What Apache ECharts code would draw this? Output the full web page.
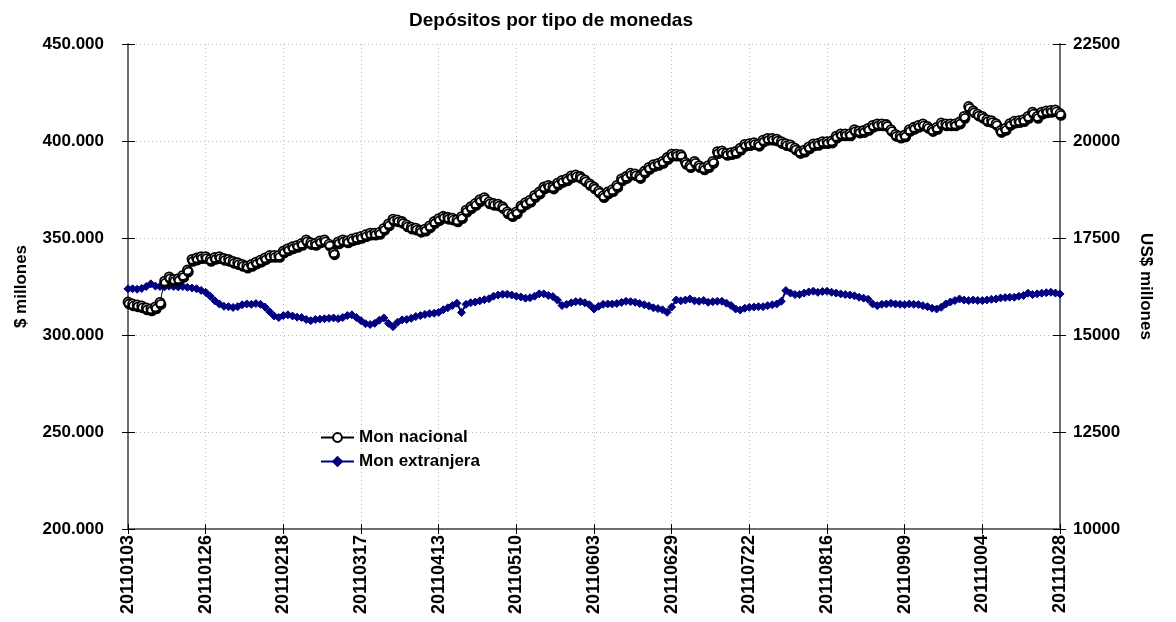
<!DOCTYPE html>
<html>
<head>
<meta charset="utf-8">
<script src="https://cdn.jsdelivr.net/npm/echarts@6/dist/echarts.min.js"></script>
<style>
html,body{margin:0;padding:0;background:#fff;}
#chart{width:1176px;height:622px;}
</style>
</head>
<body>
<div id="chart"></div>
<script>
var tickLabels = ['20110103','20110126','20110218','20110317','20110413','20110510','20110603','20110629','20110722','20110816','20110909','20111004','20111028'];
var step = 17;

var monNacional = [
317000,316000,315500,315000,314000,313500,314500,316800,327800,330000,
328700,329000,330700,333500,339000,339700,340400,340400,339000,340000,
340400,339500,339000,338000,337300,336400,335500,336400,337600,338600,
339800,341000,341000,341000,343300,344500,345500,346200,347200,349000,
347600,347200,348500,349000,346800,342400,348000,349000,348500,349500,
350200,350800,351700,352500,352500,352900,355000,357300,359700,359300,
358500,356800,355600,355100,354000,354600,356300,358500,360000,361200,
360700,360200,359300,361000,364400,366100,367800,369800,370800,368600,
367800,367500,366100,363500,362000,363500,366500,368200,369500,372000,
373700,376300,377100,376300,378300,379700,380500,382000,382500,381700,
380000,378000,376300,374200,371800,373700,374900,377100,380500,381700,
383400,383100,381700,384400,386400,387800,388500,389500,391500,393200,
393200,392900,389000,387300,389500,387300,386100,387300,389500,394500,
394900,393600,394000,394600,396300,398300,398600,399200,398300,400500,
401400,401400,401000,399700,398600,398000,396300,394600,395300,397000,
398500,398800,399700,399700,400000,402500,403700,403700,403700,405900,
405100,405400,406500,408100,408800,408800,408500,405900,403400,402500,
403100,405900,407100,408100,408800,407500,405900,407000,409300,408800,
408800,408800,409800,412700,417800,415600,413900,412700,411000,410500,
409000,405400,406500,409000,410200,410500,411000,412700,414900,412700,
414900,415500,415800,416000,414200
];

var monExtranjera = [
16190,16190,16180,16200,16250,16318,16260,16250,16240,16260,
16250,16240,16250,16230,16210,16190,16150,16100,16000,15880,
15800,15740,15730,15710,15730,15780,15800,15790,15810,15790,
15720,15600,15490,15450,15500,15520,15490,15460,15450,15400,
15370,15400,15410,15420,15430,15440,15420,15450,15500,15520,
15450,15370,15290,15270,15300,15380,15440,15300,15215,15330,
15390,15400,15430,15475,15500,15530,15550,15560,15585,15650,
15700,15760,15820,15580,15790,15830,15850,15880,15910,15935,
16000,16030,16050,16050,16030,16000,15980,15950,15960,16000,
16060,16060,16020,15990,15900,15760,15790,15830,15860,15860,
15830,15780,15670,15740,15790,15800,15800,15810,15840,15869,
15860,15843,15810,15780,15750,15700,15680,15650,15584,15720,
15903,15880,15900,15929,15880,15869,15890,15843,15860,15869,
15869,15820,15760,15670,15645,15690,15714,15720,15731,15731,
15757,15780,15800,15869,16145,16080,16042,16042,16080,16110,
16130,16100,16120,16128,16102,16080,16059,16042,16030,16010,
15973,15950,15920,15800,15757,15790,15800,15817,15800,15790,
15783,15800,15790,15783,15757,15730,15690,15670,15714,15800,
15850,15886,15929,15900,15886,15903,15890,15886,15903,15920,
15929,15955,15965,15973,15973,16000,16016,16078,16042,16060,
16078,16090,16102,16080,16059
];

var categories = monNacional.map(function (_, i) {
  return i % step === 0 ? tickLabels[i / step] : '';
});

var FONT = '"Liberation Sans", Arial, sans-serif';
var AXIS_COLOR = '#6e6e6e';
var GRID_COLOR = '#bdbdbd';

function fmtThousands(v) {
  return String(Math.round(v)).replace(/\B(?=(\d{3})+(?!\d))/g, '.');
}
function fmtPlain(v) {
  return String(Math.round(v));
}

var chart = echarts.init(document.getElementById('chart'), null, {renderer: 'canvas'});
chart.setOption({
  animation: false,
  backgroundColor: '#ffffff',
  textStyle: {fontFamily: FONT},
  title: {
    text: 'Depósitos por tipo de monedas',
    left: 546,
    top: 6,
    textAlign: 'center',
    textStyle: {fontFamily: FONT, fontSize: 19, fontWeight: 'bold', color: '#000'}
  },
  legend: {
    orient: 'vertical',
    left: 320,
    top: 429,
    padding: 0,
    itemWidth: 33,
    itemHeight: 11,
    itemGap: 7,
    data: ['Mon nacional', 'Mon extranjera'],
    textStyle: {fontFamily: FONT, fontSize: 17, fontWeight: 'bold', color: '#000'}
  },
  grid: {left: 128, right: 116, top: 44, bottom: 93, containLabel: false},
  xAxis: [{
    type: 'category',
    data: categories,
    boundaryGap: false,
    axisLine: {show: true, lineStyle: {color: AXIS_COLOR, width: 2}},
    axisTick: {show: true, interval: step - 1, length: 5, lineStyle: {color: '#000', width: 1}},
    axisLabel: {interval: step - 1, rotate: 90, margin: 6, fontFamily: FONT, fontSize: 18, fontWeight: 'bold', color: '#000'},
    splitLine: {show: true, interval: step - 1, lineStyle: {color: GRID_COLOR, type: [1, 3], width: 1}}
  }, {
    type: 'category',
    data: categories,
    boundaryGap: false,
    position: 'bottom',
    axisLine: {show: false},
    axisTick: {show: true, inside: true, interval: step - 1, length: 5, lineStyle: {color: '#000', width: 1}},
    axisLabel: {show: false},
    splitLine: {show: false}
  }],
  yAxis: [{
    type: 'value',
    min: 200000, max: 450000, interval: 50000,
    position: 'left',
    name: '$ millones',
    nameLocation: 'middle',
    nameRotate: 90,
    nameGap: 98,
    nameTextStyle: {fontFamily: FONT, fontSize: 17, fontWeight: 'bold', color: '#000'},
    axisLine: {show: true, lineStyle: {color: AXIS_COLOR, width: 2}},
    axisTick: {show: true, length: 6, lineStyle: {color: '#000', width: 1}},
    axisLabel: {margin: 24, formatter: fmtThousands, fontFamily: FONT, fontSize: 17, fontWeight: 'bold', color: '#000'},
    splitLine: {show: true, lineStyle: {color: GRID_COLOR, type: [1, 3], width: 1}}
  }, {
    type: 'value',
    min: 10000, max: 22500, interval: 2500,
    position: 'right',
    name: 'US$ millones',
    nameLocation: 'middle',
    nameRotate: -90,
    nameGap: 77,
    nameTextStyle: {fontFamily: FONT, fontSize: 17, fontWeight: 'bold', color: '#000'},
    axisLine: {show: true, lineStyle: {color: AXIS_COLOR, width: 2}},
    axisTick: {show: true, length: 6, lineStyle: {color: '#000', width: 1}},
    axisLabel: {margin: 13, formatter: fmtPlain, fontFamily: FONT, fontSize: 17, fontWeight: 'bold', color: '#000'},
    splitLine: {show: false}
  }, {
    type: 'value',
    min: 200000, max: 450000, interval: 50000,
    position: 'left',
    axisLine: {show: false},
    axisTick: {show: true, inside: true, length: 7, lineStyle: {color: '#000', width: 1}},
    axisLabel: {show: false},
    splitLine: {show: false}
  }, {
    type: 'value',
    min: 10000, max: 22500, interval: 2500,
    position: 'right',
    axisLine: {show: false},
    axisTick: {show: true, inside: true, length: 7, lineStyle: {color: '#000', width: 1}},
    axisLabel: {show: false},
    splitLine: {show: false}
  }],
  series: [{
    name: 'Mon extranjera',
    type: 'line',
    xAxisIndex: 0,
    yAxisIndex: 1,
    data: monExtranjera,
    symbol: 'diamond',
    symbolSize: 8,
    showSymbol: true,
    showAllSymbol: true,
    lineStyle: {color: '#000080', width: 2},
    itemStyle: {color: '#000080', borderColor: '#000080', borderWidth: 1},
    z: 2
  }, {
    name: 'Mon nacional',
    type: 'line',
    xAxisIndex: 0,
    yAxisIndex: 0,
    data: monNacional,
    symbol: 'circle',
    symbolSize: 9,
    showSymbol: true,
    showAllSymbol: true,
    lineStyle: {color: '#000000', width: 1},
    itemStyle: {color: '#ffffff', borderColor: '#000000', borderWidth: 1.8,
      shadowColor: '#000', shadowBlur: 0, shadowOffsetX: 1, shadowOffsetY: 2},
    z: 3
  }]
});
</script>
</body>
</html>
